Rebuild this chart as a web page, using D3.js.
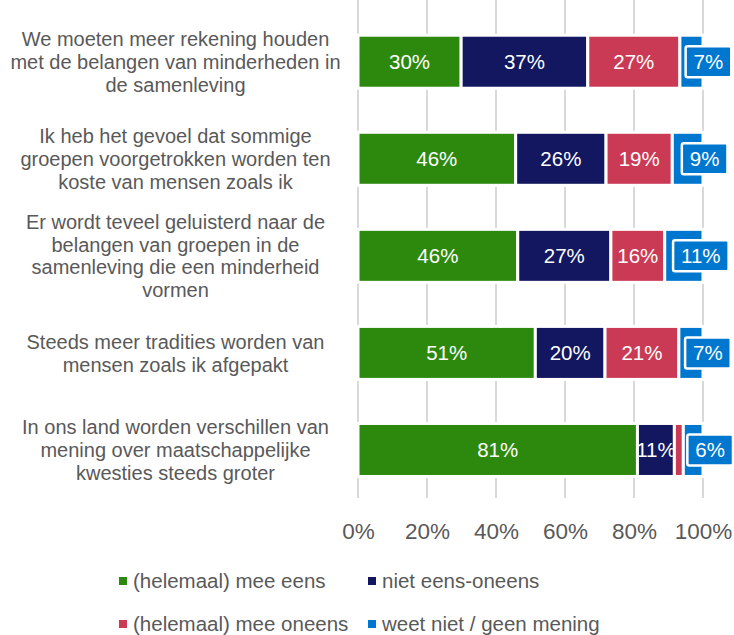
<!DOCTYPE html>
<html>
<head>
<meta charset="utf-8">
<script src="https://cdn.jsdelivr.net/npm/d3@7"></script>
<style>
  html, body { margin: 0; padding: 0; background: #fff; }
  svg { display: block; font-family: "Liberation Sans", Arial, Helvetica, sans-serif; }
</style>
</head>
<body>
<svg id="chart" width="734" height="635"></svg>
<script>
// ---- data ----
const categories = [
  ["We moeten meer rekening houden", "met de belangen van minderheden in", "de samenleving"],
  ["Ik heb het gevoel dat sommige", "groepen voorgetrokken worden ten", "koste van mensen zoals ik"],
  ["Er wordt teveel geluisterd naar de", "belangen van groepen in de", "samenleving die een minderheid", "vormen"],
  ["Steeds meer tradities worden van", "mensen zoals ik afgepakt"],
  ["In ons land worden verschillen van", "mening over maatschappelijke", "kwesties steeds groter"]
];
const seriesNames = ["(helemaal) mee eens", "niet eens-oneens", "(helemaal) mee oneens", "weet niet / geen mening"];
const meeEens   = [29.9, 45.7, 46.3, 51.4, 81.0];
const neutraal  = [36.7, 26.2, 27.0, 20.2, 10.7];
const meeOneens = [26.7, 19.2, 15.6, 21.4, 2.6];
const weetNiet  = [6.7, 8.9, 11.1, 7.0, 5.7];
const tickValues = [0, 20, 40, 60, 80, 100];
const colors = ["#2d890e", "#12175f", "#cb3a55", "#0077cf"];

const seriesValues = [meeEens, neutraal, meeOneens, weetNiet];
const rows = categories.map((c, i) => {
  const r = { idx: i };
  seriesNames.forEach((s, j) => r[s] = seriesValues[j][i]);
  return r;
});

const svg = d3.select("#chart");
const textColor = "#595959";

const x = d3.scaleLinear().domain([0, 100]).range([358, 703]);
const y = d3.scaleBand().domain(d3.range(categories.length))
  .range([13.2, 498.5]).paddingInner(0.454).paddingOuter(0.227);

// gridlines
svg.append("g").selectAll("line").data(tickValues).join("line")
  .attr("x1", d => x(d)).attr("x2", d => x(d))
  .attr("y1", 0).attr("y2", 498)
  .attr("stroke", "#d9d9d9").attr("stroke-width", 2);

// axis
const axis = svg.append("g").attr("transform", "translate(0,498)")
  .call(d3.axisBottom(x).tickValues(tickValues).tickFormat(d => d + "%").tickSize(0).tickPadding(25));
axis.select(".domain").remove();
axis.selectAll("text").attr("fill", textColor).style("font-size", "22.5px")
  .style("font-family", "'Liberation Sans', Arial, sans-serif");

// stacked bars
const stack = d3.stack().keys(seriesNames);
const stacked = stack(rows);

const defs = svg.append("defs");
const barsG = svg.append("g");
stacked.forEach((layer, j) => {
  layer.forEach((d, i) => {
    const x0 = x(d[0]), x1 = x(d[1]);
    const yy = y(i), h = y.bandwidth();
    barsG.append("rect")
      .attr("x", x0).attr("y", yy).attr("width", x1 - x0).attr("height", h)
      .attr("fill", colors[j]).attr("stroke", "#fff").attr("stroke-width", 3);
    const v = d[1] - d[0];
    const label = Math.round(v) + "%";
    if (j < 3) {
      if (v >= 5) {
        const cid = "clip-" + j + "-" + i;
        defs.append("clipPath").attr("id", cid).append("rect")
          .attr("x", x0 + 1.5).attr("y", yy).attr("width", Math.max(0, x1 - x0 - 3)).attr("height", h);
        barsG.append("text")
          .attr("clip-path", "url(#" + cid + ")")
          .attr("x", (x0 + x1) / 2).attr("y", yy + h / 2).attr("dy", "0.36em")
          .attr("text-anchor", "middle").attr("fill", "#fff")
          .style("font-size", "20.5px").text(label);
      }
    } else {
      // callout label box
      const cx = (x0 + x1) / 2 + 17;
      const cy = yy + h / 2;
      const g = barsG.append("g");
      const box = g.append("rect");
      const t = g.append("text")
        .attr("x", cx).attr("y", cy).attr("dy", "0.36em")
        .attr("text-anchor", "middle").attr("fill", "#fff")
        .style("font-size", "20.5px").text(label);
      const tw = t.node().getComputedTextLength();
      const bw = tw + 16, bh = 31;
      box.attr("x", cx - bw / 2).attr("y", cy - bh / 2).attr("width", bw).attr("height", bh)
        .attr("rx", 2).attr("fill", colors[j]).attr("stroke", "#fff").attr("stroke-width", 2.5);
    }
  });
});

// category labels
const lineH = 22.8;
const catG = svg.append("g");
categories.forEach((lines, i) => {
  const cy = y(i) + y.bandwidth() / 2;
  const startY = cy - (lines.length - 1) * lineH / 2;
  const t = catG.append("text").attr("text-anchor", "middle").attr("fill", textColor)
    .style("font-size", "20px");
  lines.forEach((ln, k) => {
    t.append("tspan").attr("x", 175.5).attr("y", startY + k * lineH).attr("dy", "0.36em").text(ln);
  });
});

// legend
const legendPos = [[119, 581], [368, 581], [119, 624], [368, 624]];
const legG = svg.append("g");
seriesNames.forEach((s, j) => {
  const [lx, ly] = legendPos[j];
  legG.append("rect").attr("x", lx).attr("y", ly - 4).attr("width", 8).attr("height", 8).attr("fill", colors[j]);
  legG.append("text").attr("x", lx + 14).attr("y", ly).attr("dy", "0.36em")
    .attr("fill", textColor).style("font-size", "20.5px").text(s);
});
</script>
</body>
</html>
